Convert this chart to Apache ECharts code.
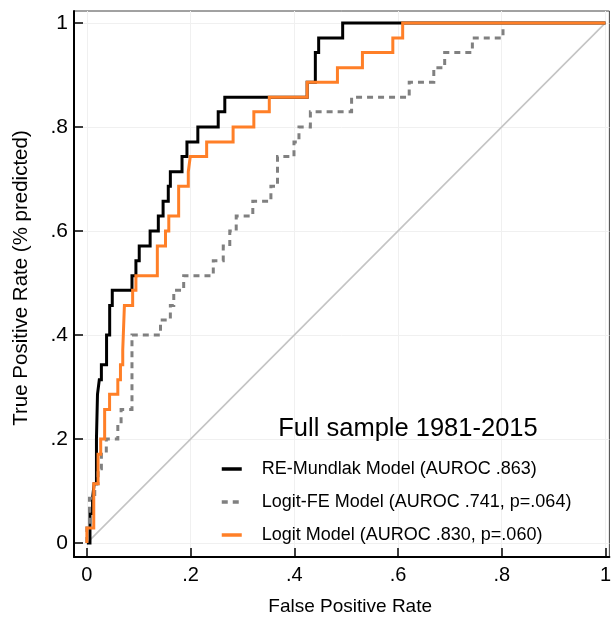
<!DOCTYPE html>
<html>
<head>
<meta charset="utf-8">
<script src="https://cdn.jsdelivr.net/npm/echarts@6/dist/echarts.min.js"></script>
<style>
html,body{margin:0;padding:0;background:#fff;}
#c{width:614px;height:621px;}
</style>
</head>
<body>
<div id="c"></div>
<script>
// ---- data ----
const tickValues = [0, 0.2, 0.4, 0.6, 0.8, 1];
const tickLabels = ['0', '.2', '.4', '.6', '.8', '1'];
const titleText = 'Full sample 1981-2015';
const xTitle = 'False Positive Rate';
const yTitle = 'True Positive Rate (% predicted)';
const seriesNames = [
  'RE-Mundlak Model (AUROC .863)',
  'Logit-FE Model (AUROC .741, p=.064)',
  'Logit Model (AUROC .830, p=.060)'
];
// ROC points [FPR, TPR] (top of each vertical rise)
const reMundlak = [[0,0],[0.006,0.057],[0.011,0.086],[0.014,0.114],[0.0185,0.2],[0.0205,0.286],[0.024,0.314],[0.028,0.343],[0.038,0.4],[0.044,0.457],[0.049,0.486],[0.087,0.514],[0.0946,0.543],[0.101,0.571],[0.122,0.6],[0.1378,0.629],[0.147,0.657],[0.157,0.686],[0.161,0.714],[0.1835,0.743],[0.193,0.771],[0.214,0.8],[0.2533,0.829],[0.266,0.857],[0.4248,0.886],[0.4406,0.943],[0.447,0.971],[0.4933,1],[1,1]];
const logitFE = [[0,0],[0,0.029],[0.005,0.086],[0.0152,0.114],[0.0216,0.143],[0.028,0.171],[0.0375,0.2],[0.0597,0.229],[0.066,0.257],[0.087,0.4],[0.142,0.429],[0.161,0.457],[0.1676,0.486],[0.1867,0.514],[0.2438,0.543],[0.263,0.571],[0.2756,0.6],[0.288,0.629],[0.32,0.657],[0.3549,0.686],[0.3676,0.743],[0.3994,0.771],[0.409,0.8],[0.431,0.829],[0.5105,0.857],[0.6216,0.886],[0.669,0.914],[0.69,0.943],[0.7434,0.971],[0.8025,1],[1,1]];
const logit = [[0,0],[0,0.029],[0.0133,0.114],[0.0216,0.171],[0.0267,0.2],[0.0343,0.257],[0.0438,0.286],[0.0597,0.314],[0.0648,0.343],[0.0692,0.371],[0.0724,0.457],[0.0883,0.486],[0.0946,0.514],[0.1359,0.571],[0.1517,0.6],[0.158,0.629],[0.177,0.686],[0.1956,0.714],[0.1994,0.743],[0.231,0.771],[0.282,0.8],[0.322,0.829],[0.3518,0.857],[0.4248,0.886],[0.4832,0.914],[0.5314,0.943],[0.59,0.971],[0.609,1],[1,1]];
const diagonal = [[0,0],[1,1]];

// ---- chart ----
const chart = echarts.init(document.getElementById('c'));
const fontFamily = '"Liberation Sans", Arial, Helvetica, sans-serif';
function fmt(v) {
  for (let i = 0; i < tickValues.length; i++) {
    if (Math.abs(tickValues[i] - v) < 1e-9) return tickLabels[i];
  }
  return '';
}
const option = {
  animation: false,
  backgroundColor: '#ffffff',
  textStyle: { fontFamily: fontFamily },
  title: {
    text: titleText,
    left: 408, top: 416, padding: 0, textAlign: 'center',
    textStyle: { fontSize: 25.5, fontWeight: 'normal', color: '#000', fontFamily: fontFamily }
  },
  legend: {
    data: seriesNames,
    orient: 'vertical',
    left: 220, top: 460,
    padding: 0,
    itemWidth: 20, itemHeight: 14, itemGap: 15,
    itemStyle: { opacity: 0 },
    lineStyle: { width: 3.5 },
    textStyle: { fontSize: 18, color: '#000', padding: [0, 0, 0, 15], fontFamily: fontFamily }
  },
  grid: { left: 74, top: 11, right: -2, bottom: 59, show: true, borderColor: '#444', borderWidth: 1 },
  xAxis: {
    type: 'value', min: -0.0248, max: 1.0076,
    name: xTitle, nameLocation: 'middle', nameGap: 40,
    nameTextStyle: { fontSize: 19, color: '#000', padding: [0, 0, 0, 17], fontFamily: fontFamily },
    axisLine: { onZero: false, lineStyle: { color: '#000', width: 2 } },
    axisTick: { inside: true, length: 9, customValues: tickValues, lineStyle: { color: '#000', width: 1.5 } },
    axisLabel: { customValues: tickValues, formatter: fmt, fontSize: 20, color: '#000', margin: 8, fontFamily: fontFamily },
    splitLine: { show: true, lineStyle: { color: '#f0f0f0', width: 1 } }
  },
  yAxis: {
    type: 'value', min: -0.0267, max: 1.0229,
    name: yTitle, nameLocation: 'middle', nameGap: 42,
    nameTextStyle: { fontSize: 20.5, color: '#000', padding: [0, 0, 0, 12], fontFamily: fontFamily },
    axisLine: { onZero: false, lineStyle: { color: '#000', width: 2 } },
    axisTick: { inside: true, length: 9, customValues: tickValues, lineStyle: { color: '#000', width: 1.5 } },
    axisLabel: { customValues: tickValues, formatter: fmt, fontSize: 21, color: '#000', margin: 6, fontFamily: fontFamily },
    splitLine: { show: true, lineStyle: { color: '#f0f0f0', width: 1 } }
  },
  series: [
    { name: 'diag', type: 'line', data: diagonal, symbol: 'none', silent: true,
      lineStyle: { color: '#c4c4c4', width: 1.6 }, z: 1 },
    { name: seriesNames[0], type: 'line', data: reMundlak, step: 'end', symbol: 'none',
      lineStyle: { color: '#000000', width: 3, cap: 'butt', join: 'miter' }, itemStyle: { color: '#000' }, z: 2 },
    { name: seriesNames[1], type: 'line', data: logitFE, step: 'end', symbol: 'none',
      lineStyle: { color: '#808080', width: 3, type: [6, 5], cap: 'butt', join: 'miter' }, itemStyle: { color: '#808080' }, z: 3 },
    { name: seriesNames[2], type: 'line', data: logit, step: 'end', symbol: 'none',
      lineStyle: { color: '#ff7f27', width: 3, cap: 'butt', join: 'miter' }, itemStyle: { color: '#ff7f27' }, z: 4 }
  ]
};
chart.setOption(option);
</script>
</body>
</html>
